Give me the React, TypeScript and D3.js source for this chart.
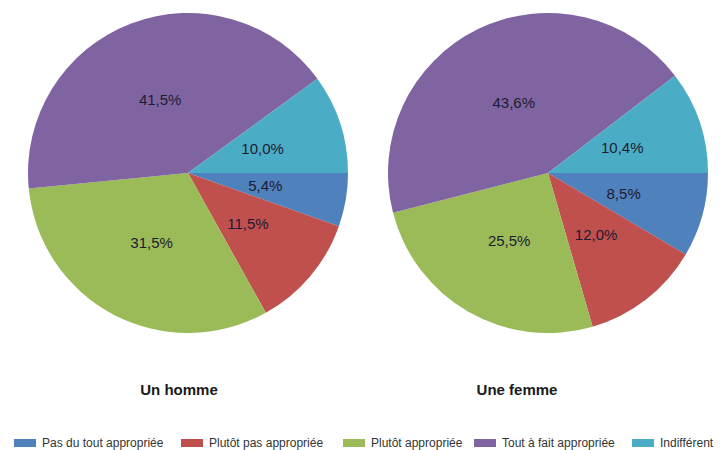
import { useEffect, useRef } from "react";
import * as d3 from "d3";

const categories = [
  "Pas du tout appropriée",
  "Plutôt pas appropriée",
  "Plutôt appropriée",
  "Tout à fait appropriée",
  "Indifférent",
];
const colors = ["#4F81BD", "#C0504D", "#9BBB59", "#8064A2", "#4BACC6"];
const hommeValues = [5.4, 11.5, 31.5, 41.5, 10.0];
const femmeValues = [8.5, 12.0, 25.5, 43.6, 10.4];
const groups = ["Un homme", "Une femme"];

const width = 720;
const height = 450;

export default function App() {
  const ref = useRef<SVGSVGElement>(null);

  useEffect(() => {
    const svg = d3.select(ref.current);
    svg.selectAll("*").remove();

    const radius = 160;
    const pies = [
      { values: hommeValues, cx: 188, title: groups[0], tx: 179 },
      { values: femmeValues, cx: 548, title: groups[1], tx: 517 },
    ];

    const pie = d3
      .pie<number>()
      .sort(null)
      .value((d) => d)
      .startAngle(Math.PI / 2)
      .endAngle(Math.PI / 2 + 2 * Math.PI);

    const arc = d3.arc<d3.PieArcDatum<number>>().innerRadius(0).outerRadius(radius);
    const labelArc = d3
      .arc<d3.PieArcDatum<number>>()
      .innerRadius(radius * 0.49)
      .outerRadius(radius * 0.49);

    pies.forEach((p) => {
      const g = svg.append("g").attr("transform", `translate(${p.cx}, 173)`);
      const arcs = pie(p.values);

      g.selectAll("path")
        .data(arcs)
        .enter()
        .append("path")
        .attr("d", (d) => arc(d) as string)
        .attr("fill", (_d, i) => colors[i]);

      g.selectAll("text")
        .data(arcs)
        .enter()
        .append("text")
        .attr("transform", (d) => `translate(${labelArc.centroid(d)})`)
        .attr("text-anchor", "middle")
        .attr("dy", "0.35em")
        .attr("font-family", "Liberation Sans, Arial, sans-serif")
        .attr("font-size", 15)
        .attr("fill", "#1c1c30")
        .text((d) => d.data.toFixed(1).replace(".", ",") + "%");

      svg
        .append("text")
        .attr("x", p.tx)
        .attr("y", 395)
        .attr("text-anchor", "middle")
        .attr("font-family", "Liberation Sans, Arial, sans-serif")
        .attr("font-size", 15)
        .attr("font-weight", "bold")
        .attr("fill", "#1a1a1a")
        .text(p.title);
    });

    // legend
    const legendX = [14, 181, 343, 474, 632];
    const legend = svg
      .selectAll(".legend")
      .data(categories)
      .enter()
      .append("g")
      .attr("class", "legend")
      .attr("transform", (_d, i) => `translate(${legendX[i]}, 443)`);

    legend
      .append("rect")
      .attr("x", 0)
      .attr("y", -4)
      .attr("width", 22)
      .attr("height", 8)
      .attr("fill", (_d, i) => colors[i]);

    legend
      .append("text")
      .attr("x", 28)
      .attr("dy", "0.35em")
      .attr("font-family", "Liberation Sans, Arial, sans-serif")
      .attr("font-size", 12)
      .attr("fill", "#333")
      .text((d) => d);
  }, []);

  return (
    <svg
      ref={ref}
      width={width}
      height={height}
      style={{ position: "absolute", left: 0, top: 0, background: "#fff" }}
    />
  );
}
